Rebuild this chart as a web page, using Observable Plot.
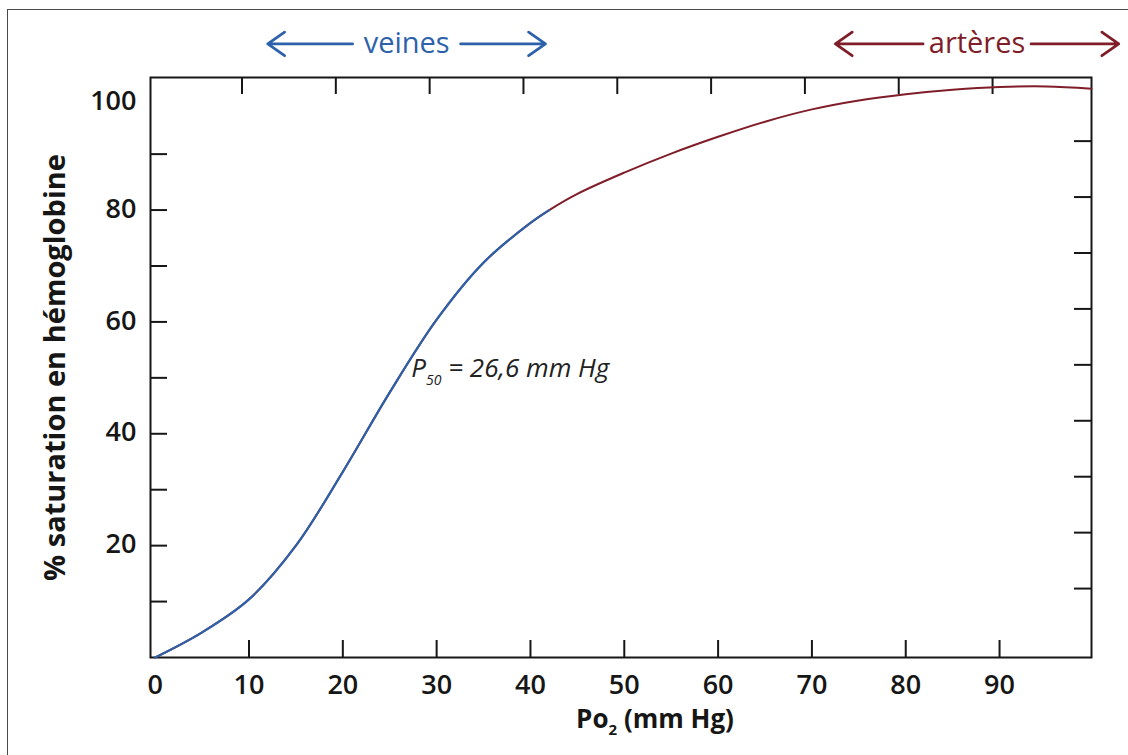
<!DOCTYPE html>
<html>
<head>
<meta charset="utf-8">
<script src="https://cdn.jsdelivr.net/npm/d3@7"></script>
<script src="https://cdn.jsdelivr.net/npm/@observablehq/plot@0.6"></script>
<style>
  html, body { margin: 0; padding: 0; background: #fff; overflow: hidden; }
  #wrap { position: relative; width: 1128px; height: 755px; }
  #border { position: absolute; left: 7px; top: 9px; width: 1300px; height: 900px;
            border: 1.5px solid #4a4a4a; box-sizing: border-box; }
  #chart { position: absolute; left: 0; top: 0; }
</style>
</head>
<body>
<div id="wrap"><div id="border"></div><div id="chart"></div></div>
<script>
// ---- data ----
const xTicks = [0, 10, 20, 30, 40, 50, 60, 70, 80, 90];
const yTicks = [10, 20, 30, 40, 50, 60, 70, 80, 90];
const yTickLabels = [20, 40, 60, 80];
const topLabel = "100";

// P (mm Hg) and % saturation along the whole curve
const curveP = [0, 5, 10, 15, 20, 25, 30, 35, 40, 42, 45, 50, 55, 60, 65, 70, 75, 80, 85, 90, 95, 99.8];
const curveS = [0, 4.5, 10.4, 20, 33.2, 47.4, 60.4, 70.6, 77.7, 80.0, 82.9, 86.7, 90.1, 93.1, 95.8, 98.0, 99.6, 100.7, 101.5, 102.0, 102.1, 101.7];
// venous part (blue) ends here; arterial part (dark red) beyond
const veinEnd = 42;

const veinLabel = "veines";
const arteryLabel = "artères";
const veinSpan = [12.0, 41.6];
const arterySpan = [72.5, 102.7];
const bandLevel = 109.7;

const p50Label = "P50 = 26,6 mm Hg";
const p50Pos = [27.3, 51.6];

const xLabel = "Po2 (mm Hg)";
const yLabel = "% saturation en hémoglobine";

const blue = "#2d62ab";
const red = "#7f1d28";
const ink = "#161616";

const curveData = curveP.map((p, i) => ({p, s: curveS[i]}));
const veinData = curveData.filter(d => d.p <= veinEnd);

const bands = [
  {label: veinLabel, span: veinSpan, color: blue},
  {label: arteryLabel, span: arterySpan, color: red}
];
const arrowData = bands.flatMap(b => {
  const mid = (b.span[0] + b.span[1]) / 2;
  return [{x1: mid, x2: b.span[0], color: b.color}, {x1: mid, x2: b.span[1], color: b.color}];
});
const bandText = bands.map(b => ({x: (b.span[0] + b.span[1]) / 2, label: b.label, color: b.color}));

const W = 1128, H = 755, mL = 150, mR = 37, mT = 77, mB = 98;
const plotW = W - mL - mR, plotH = H - mT - mB;
const tickLen = 17;

const chart = Plot.plot({
  width: W, height: H,
  marginLeft: mL, marginRight: mR, marginTop: mT, marginBottom: mB,
  style: {fontFamily: "'Open Sans', sans-serif", background: "transparent", color: ink},
  x: {domain: [-0.5, 99.8]},
  y: {domain: [0, 103.7]},
  marks: [
    Plot.axisX(xTicks, {tickSize: 0, tickPadding: 17, fontSize: 27, fontWeight: 600, label: null, fill: ink}),
    Plot.axisY(yTickLabels, {tickSize: 0, tickPadding: 14, fontSize: 27, fontWeight: 600, label: null, fill: ink, dy: -1}),
    Plot.text([topLabel], {frameAnchor: "top-left", text: d => d, textAnchor: "end", dx: -14, dy: 13,
      fontSize: 27, fontWeight: 600, fill: ink}),
    // inward ticks on the four sides
    Plot.tickX(xTicks.slice(1), {x: d => d, insetTop: plotH - tickLen, stroke: ink, strokeWidth: 2}),
    Plot.tickX(xTicks.slice(1), {x: d => d, insetBottom: plotH - tickLen, dx: -7, stroke: ink, strokeWidth: 2}),
    Plot.tickY(yTicks, {y: d => d, insetRight: plotW - tickLen, stroke: ink, strokeWidth: 2}),
    Plot.tickY(yTicks, {y: d => d, insetLeft: plotW - tickLen, dy: -13, stroke: ink, strokeWidth: 2}),
    Plot.frame({stroke: ink, strokeWidth: 2}),
    // curve: whole curve in dark red, venous part in blue on top
    Plot.line(curveData, {x: "p", y: "s", stroke: red, strokeWidth: 2, curve: "catmull-rom"}),
    Plot.line(veinData, {x: "p", y: "s", stroke: blue, strokeWidth: 2.2, curve: "catmull-rom"}),
    // P50 annotation
    Plot.text([p50Label], {x: () => p50Pos[0], y: () => p50Pos[1], text: d => d, textAnchor: "start",
      fontSize: 26, fontStyle: "italic", fill: "#222"}),
    // veines / artères arrows
    Plot.arrow(arrowData, {x1: "x1", x2: "x2", y1: () => bandLevel, y2: () => bandLevel, stroke: "color",
      strokeWidth: 2.8, headLength: 11, headAngle: 70, insetStart: 54, insetEnd: 0}),
    Plot.text(bandText, {x: "x", y: () => bandLevel, text: "label", fill: "color", fontSize: 29}),
    // axis titles
    Plot.text([xLabel], {frameAnchor: "bottom", text: d => d, dx: 34, dy: 70, fontSize: 26, fontWeight: 700, fill: ink}),
    Plot.text([yLabel], {frameAnchor: "left", text: d => d, textAnchor: "middle", rotate: -90, dx: -95,
      fontSize: 29, fontWeight: 700, fill: ink})
  ]
});

// subscripts
d3.select(chart).selectAll("text").each(function () {
  const t = this.textContent;
  const s = d3.select(this);
  if (t === xLabel) {
    s.text(null);
    s.append("tspan").text("Po");
    s.append("tspan").attr("font-size", "15px").attr("dy", "7").text("2");
    s.append("tspan").attr("dy", "-7").text(" (mm Hg)");
  } else if (t === p50Label) {
    s.text(null);
    s.append("tspan").text("P");
    s.append("tspan").attr("font-size", "14px").attr("dy", "8").text("50");
    s.append("tspan").attr("dy", "-8").text(" = 26,6 mm Hg");
  }
});

document.getElementById("chart").appendChild(chart);
</script>
</body>
</html>
